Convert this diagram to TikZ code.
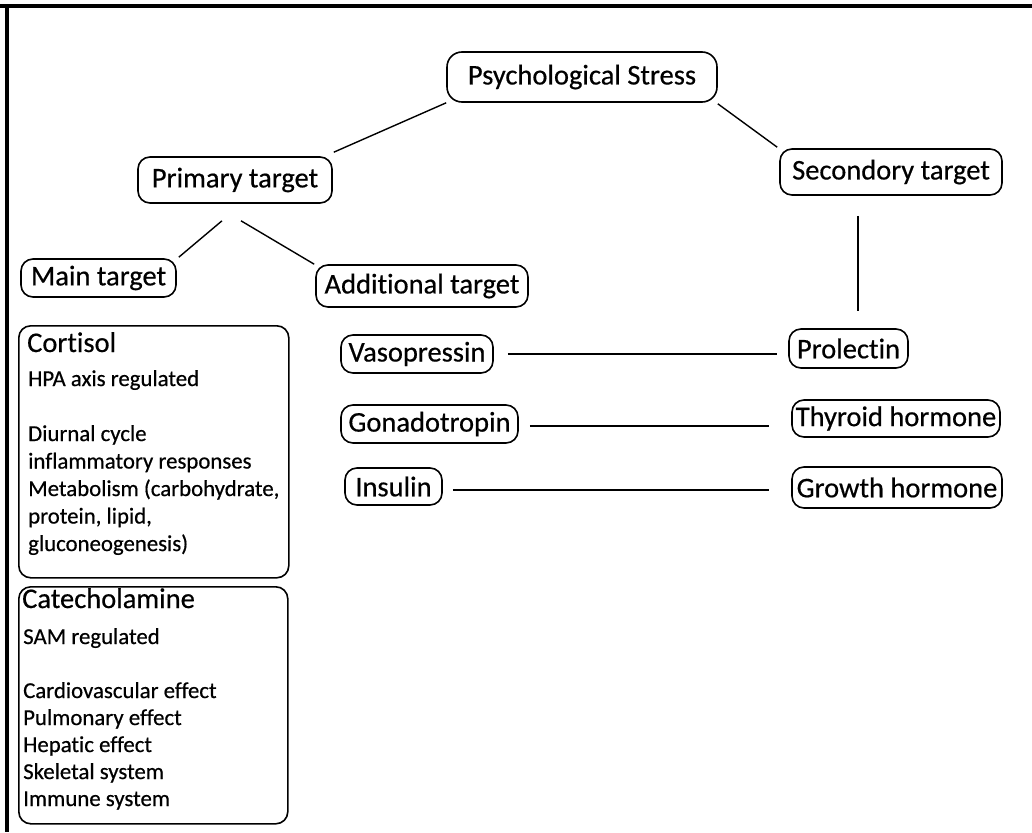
\documentclass[tikz,border=0pt]{standalone}
\usepackage{fontspec}
\setmainfont{Carlito}[Ligatures=NoCommon, FakeBold=0.5]
\newcommand\nodefnt{\fontsize{28.5}{32}\selectfont}
\newcommand\bodyfnt{\fontsize{22.8}{27.5}\selectfont}
\newcommand\bodyfntb{\fontsize{22.8}{27}\selectfont}
\tikzset{
  tag/.style={draw, rounded corners=12pt, line width=1.6pt, font=\nodefnt, inner sep=0pt},
  bigbox/.style={draw, rounded corners=12pt, line width=1.6pt, inner sep=0pt, anchor=north west},
  conn/.style={line width=1.4pt},
  boxtitle/.style={font=\nodefnt, inner sep=0pt, anchor=base west},
  boxbody/.style={font=\bodyfnt, inner sep=0pt, anchor=north west, align=left}
}
\begin{document}
\begin{tikzpicture}[x=1pt, y=-1pt]
\useasboundingbox (0,0) rectangle (1032,832);
% frame
\fill (0,4) rectangle (1032,8);
\fill (5,4) rectangle (9,832);
% nodes
\node[tag, rounded corners=15pt, minimum width=270pt, minimum height=50pt] (stress) at (582,77) {Psychological Stress};
\node[tag, minimum width=194pt, minimum height=46pt] (primary) at (235,180) {Primary target};
\node[tag, minimum width=222pt, minimum height=46pt] (second) at (891,172) {Secondory target};
\node[tag, minimum width=155pt, minimum height=38pt] (main) at (98.5,278) {Main target};
\node[tag, minimum width=212pt, minimum height=42pt] (additional) at (422,286) {Additional target};
\node[tag, minimum width=152pt, minimum height=38pt] (vaso) at (417,354) {Vasopressin};
\node[tag, minimum width=177pt, minimum height=38pt] (gona) at (429.5,424) {Gonadotropin};
\node[tag, minimum width=97pt, minimum height=37pt] (insulin) at (393.5,486.5) {Insulin};
\node[tag, minimum width=119pt, minimum height=39pt] (prol) at (848.5,348.5) {Prolectin};
\node[tag, minimum width=208pt, minimum height=37pt] (thyroid) at (896,418.5) {Thyroid hormone};
\node[tag, minimum width=210pt, minimum height=41pt] (growth) at (897,487.5) {Growth hormone};
% big boxes
\node[bigbox, minimum width=270pt, minimum height=252pt] (cortbox) at (18,325) {};
\node[boxtitle] (corttitle) at (27,352) {Cortisol};
\node[boxbody] (corttext) at (28,370) {HPA axis regulated\\[27.5pt]Diurnal cycle\\inflammatory responses\\Metabolism (carbohydrate,\\protein, lipid,\\gluconeogenesis)};
\node[bigbox, minimum width=269pt, minimum height=237pt] (catbox) at (18,586) {};
\node[boxtitle] (cattitle) at (22,608) {Catecholamine};
\node[boxbody, font=\bodyfntb] (cattext) at (23,628) {SAM regulated\\[27pt]Cardiovascular effect\\Pulmonary effect\\Hepatic effect\\Skeletal system\\Immune system};
% connectors
\draw[conn] (stress.south west) -- ([shift={(1,-4)}]primary.north east);
\draw[conn] ([shift={(0,1)}]stress.south east) -- ([shift={(-2,-1)}]second.north west);
\draw[conn] ([shift={(-13,17)}]primary.south) -- ([shift={(2,-1)}]main.north east);
\draw[conn] ([shift={(6,17)}]primary.south) -- ([shift={(-1,0)}]additional.north west);
\draw[conn] ([shift={(-33,20)}]second.south) -- ([shift={(9.5,-17)}]prol.north);
\draw[conn] ([xshift=14pt]vaso.east) coordinate (v1) -- ([xshift=-11pt]v1 -| prol.west);
\draw[conn] ([shift={(11,2)}]gona.east) coordinate (g1) -- ([xshift=-22pt]g1 -| thyroid.west);
\draw[conn] ([shift={(10,3.5)}]insulin.east) coordinate (i1) -- ([xshift=-22pt]i1 -| growth.west);
\end{tikzpicture}
\end{document}
